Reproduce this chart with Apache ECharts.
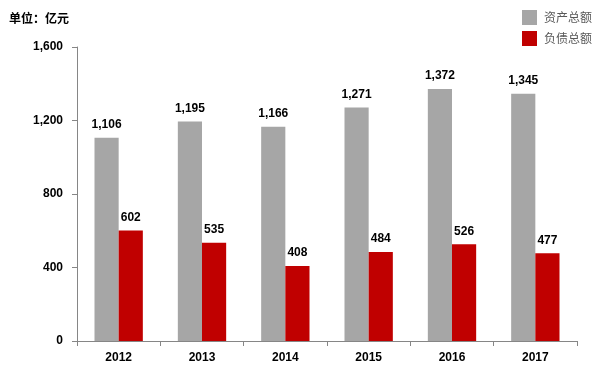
<!DOCTYPE html>
<html><head><meta charset="utf-8">
<script src="https://cdn.jsdelivr.net/npm/echarts@6/dist/echarts.min.js"></script>
<style>html,body{margin:0;padding:0;background:#fff}#c{width:600px;height:380px}</style>
</head><body><div id="c"></div>
<script>
const categories = ['2012','2013','2014','2015','2016','2017'];
const assets = [1106, 1195, 1166, 1271, 1372, 1345];
const liabilities = [602, 535, 408, 484, 526, 477];
const seriesNames = ['资产总额','负债总额'];
const yTicks = [0, 400, 800, 1200, 1600];

const fmt = v => String(v).replace(/\B(?=(\d{3})+(?!\d))/g, ',');
const font = '"Liberation Sans", Arial, sans-serif';
const cjk = '"Noto Sans CJK SC", sans-serif';
const chart = echarts.init(document.getElementById('c'));
const lbl = {show: true, position: 'top', distance: 7, fontSize: 12, fontWeight: 'bold', color: '#000', fontFamily: font, formatter: p => fmt(p.value)};
chart.setOption({
  animation: false,
  textStyle: {fontFamily: font},
  title: {text: '单位：亿元', left: 4, top: 7, textStyle: {fontSize: 12, fontWeight: 'bold', color: '#000', fontFamily: cjk}},
  legend: {
    orient: 'vertical', right: 8, top: 10, itemWidth: 15, itemHeight: 15, itemGap: 6,
    icon: 'rect', padding: 0,
    textStyle: {fontSize: 12, color: '#595959', fontFamily: cjk, padding: [0, 0, 0, 2]},
    data: seriesNames
  },
  grid: {left: 77, right: 23, top: 47, bottom: 39},
  xAxis: {
    type: 'category', data: categories,
    axisLine: {lineStyle: {color: '#868686', width: 1}},
    axisTick: {show: true, length: 5, lineStyle: {color: '#868686'}},
    axisLabel: {fontSize: 12, fontWeight: 'bold', color: '#000', margin: 11}
  },
  yAxis: {
    type: 'value', min: yTicks[0], max: yTicks[yTicks.length-1], interval: 400,
    splitLine: {show: false},
    axisLine: {show: true, lineStyle: {color: '#868686', width: 1}},
    axisTick: {show: true, length: 5, lineStyle: {color: '#868686'}},
    axisLabel: {fontSize: 12, fontWeight: 'bold', color: '#000', margin: 14, formatter: fmt}
  },
  series: [
    {name: seriesNames[0], type: 'bar', data: assets, barGap: '0%', barCategoryGap: '42%',
     itemStyle: {color: '#a6a6a6'}, label: lbl},
    {name: seriesNames[1], type: 'bar', data: liabilities, barGap: '0%', barCategoryGap: '42%',
     itemStyle: {color: '#c00000'}, label: lbl}
  ]
});
</script></body></html>
